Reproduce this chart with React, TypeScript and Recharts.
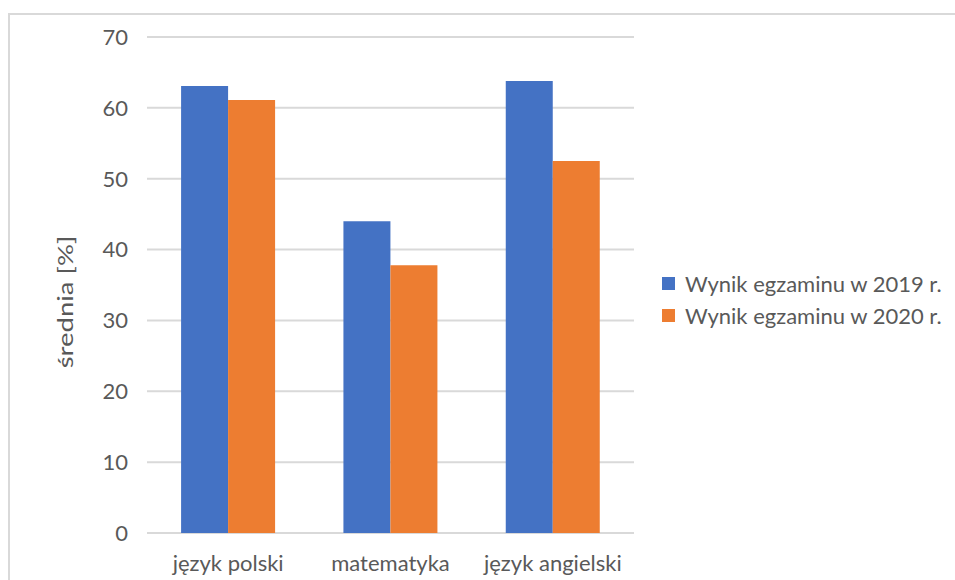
import { BarChart, Bar, XAxis, YAxis, CartesianGrid, Legend } from 'recharts';

// values
const categories = ['język polski', 'matematyka', 'język angielski'];
const wynik2019 = [63.1, 44.0, 63.8];
const wynik2020 = [61.1, 37.8, 52.5];
const yTicks = [0, 10, 20, 30, 40, 50, 60, 70];
const seriesNames = ['Wynik egzaminu w 2019 r.', 'Wynik egzaminu w 2020 r.'];

const data = categories.map((name, i) => ({
  name,
  y2019: wynik2019[i],
  y2020: wynik2020[i],
}));

const FONT = 'Lato, "Noto Sans", sans-serif';
const TEXT = '#595959';
const BLUE = '#4472C4';
const ORANGE = '#ED7D31';

function YTitle(props: any) {
  const { x, y, height } = props.viewBox;
  const cx = x + 54;
  const cy = y + height / 2 + 17;
  // the reference title is a bit stretched along its length
  return (
    <text
      x={0}
      y={0}
      transform={`translate(${cx} ${cy}) rotate(-90) scale(1.25 1)`}
      textAnchor="middle"
      dominantBaseline="central"
      fill={TEXT}
      fontSize={22}
      fontFamily={FONT}
    >
      średnia [%]
    </text>
  );
}

function LegendBox(props: any) {
  const { payload } = props;
  return (
    <div style={{ fontFamily: FONT, fontSize: 22, color: TEXT }}>
      {(payload || []).map((p: any) => (
        <div key={p.value} style={{ display: 'flex', alignItems: 'center', height: 32, whiteSpace: 'nowrap' }}>
          <span style={{ width: 13, height: 13, background: p.color, display: 'inline-block', marginRight: 10 }} />
          <span>{p.value}</span>
        </div>
      ))}
    </div>
  );
}

export default function App() {
  return (
    <div
      style={{
        position: 'absolute',
        left: 8,
        top: 13,
        width: 960,
        height: 580,
        border: '2px solid #d9d9d9',
        boxSizing: 'border-box',
        background: '#fff',
      }}
    >
      <BarChart
        width={945}
        height={565}
        data={data}
        margin={{ top: 22, right: 321, left: 0, bottom: 0 }}
        barCategoryGap="21%"
        barGap={0}
      >
        <CartesianGrid vertical={false} stroke="#d9d9d9" strokeWidth={2} />
        <XAxis
          dataKey="name"
          axisLine={false}
          tickLine={false}
          height={47}
          tickMargin={16}
          tick={{ fill: TEXT, fontSize: 22, fontFamily: FONT }}
        />
        <YAxis
          domain={[0, 70]}
          ticks={yTicks}
          width={137}
          axisLine={false}
          tickLine={false}
          tickMargin={13}
          tick={{ fill: TEXT, fontSize: 22, fontFamily: FONT }}
          label={<YTitle />}
        />
        <Legend
          layout="vertical"
          align="center"
          verticalAlign="middle"
          wrapperStyle={{ left: 652, top: 252, width: 'auto' }}
          content={<LegendBox />}
        />
        <Bar dataKey="y2019" name={seriesNames[0]} fill={BLUE} isAnimationActive={false} />
        <Bar dataKey="y2020" name={seriesNames[1]} fill={ORANGE} isAnimationActive={false} />
      </BarChart>
    </div>
  );
}
